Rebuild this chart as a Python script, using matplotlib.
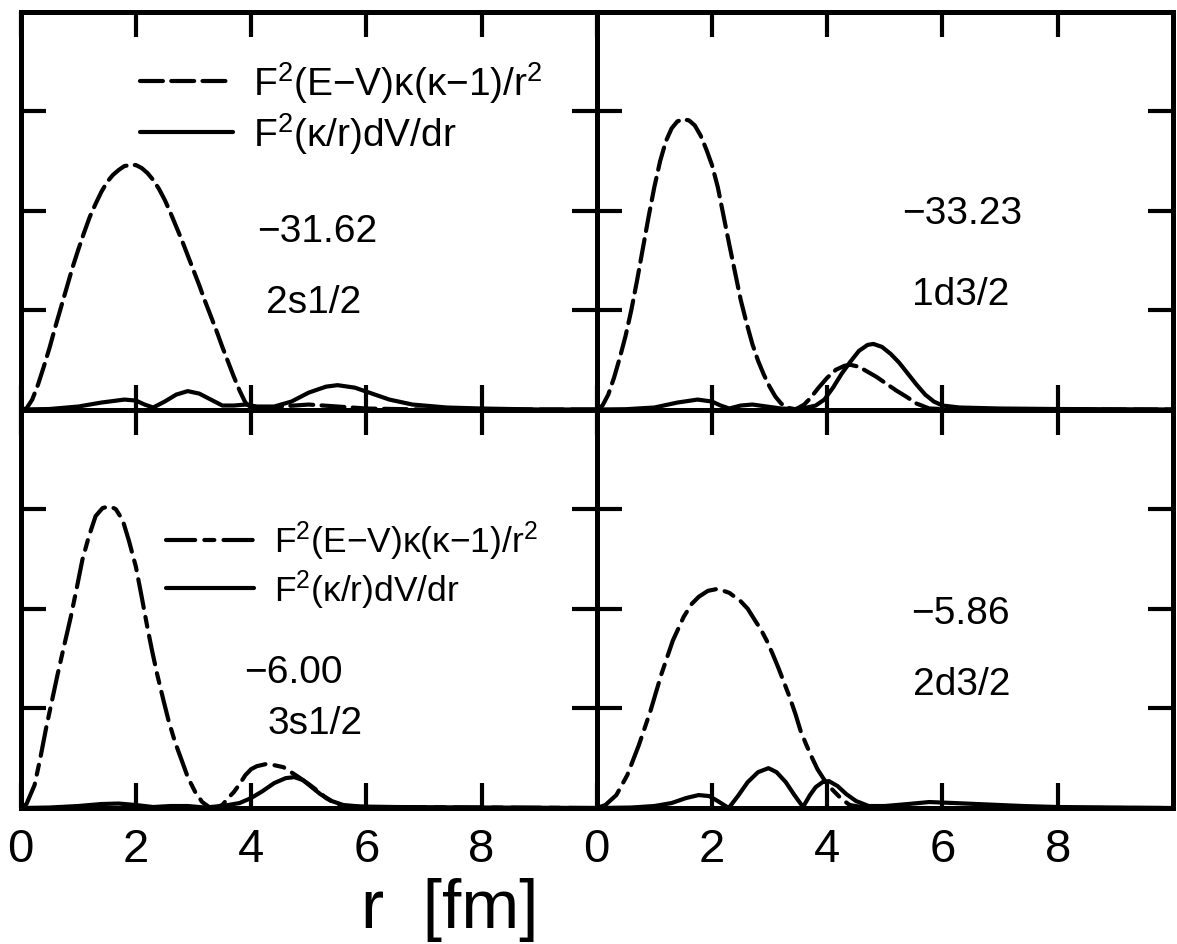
import matplotlib
matplotlib.use('Agg')
import matplotlib.pyplot as plt

plt.rcParams['font.family'] = ['Liberation Sans', 'DejaVu Sans']
plt.rcParams['mathtext.fontset'] = 'custom'
plt.rcParams['mathtext.rm'] = 'Liberation Sans'
plt.rcParams['mathtext.it'] = 'Liberation Sans'

# ---- data (r in fm, arbitrary units) ----
# top left: 2s1/2
tl_r_d = [0, 0.1, 0.2, 0.3, 0.4, 0.5, 0.6, 0.7, 0.8, 0.9, 1.0, 1.1, 1.2, 1.3, 1.4, 1.5, 1.6, 1.7, 1.8, 1.9,
          2.0, 2.1, 2.2, 2.3, 2.4, 2.5, 2.6, 2.7, 2.8, 2.9, 3.0, 3.1, 3.2, 3.3, 3.4, 3.5, 3.6, 3.7, 3.8, 3.9,
          4.0, 4.2, 4.5, 5.0, 5.5, 6.0, 7.0, 10]
tl_d = [0, 0.01, 0.1, 0.25, 0.43, 0.62, 0.83, 1.03, 1.23, 1.43, 1.61, 1.78, 1.94, 2.07, 2.19, 2.29, 2.36, 2.41,
        2.45, 2.46, 2.46, 2.43, 2.38, 2.31, 2.22, 2.11, 1.98, 1.84, 1.70, 1.55, 1.40, 1.25, 1.09, 0.94, 0.79,
        0.63, 0.48, 0.33, 0.19, 0.07, 0.02, 0.01, 0.03, 0.05, 0.03, 0.01, 0.0, 0.0]
tl_r_s = [0, 0.5, 1.0, 1.4, 1.8, 2.0, 2.15, 2.3, 2.5, 2.7, 2.9, 3.1, 3.3, 3.5, 3.7, 3.9, 4.1, 4.4, 4.7, 5.0,
          5.3, 5.5, 5.8, 6.1, 6.4, 6.8, 7.4, 8.0, 9.0, 10]
tl_s = [0, 0.005, 0.03, 0.07, 0.1, 0.09, 0.05, 0.02, 0.08, 0.15, 0.185, 0.16, 0.1, 0.04, 0.04, 0.05, 0.03,
        0.03, 0.08, 0.17, 0.23, 0.245, 0.22, 0.16, 0.1, 0.05, 0.02, 0.01, 0.0, 0.0]

# top right: 1d3/2
tr_r_d = [0, 0.1, 0.2, 0.3, 0.4, 0.5, 0.6, 0.7, 0.8, 0.9, 1.0, 1.1, 1.2, 1.3, 1.4, 1.5, 1.6, 1.7, 1.8, 1.9,
          2.0, 2.1, 2.2, 2.3, 2.4, 2.5, 2.6, 2.7, 2.8, 2.9, 3.0, 3.1, 3.2, 3.3, 3.45, 3.6, 3.7, 3.85,
          4.0, 4.15, 4.3, 4.4, 4.55, 4.7, 4.85, 5.0, 5.2, 5.37, 5.55, 5.77, 6.2, 10]
tr_d = [0, 0.04, 0.15, 0.32, 0.52, 0.74, 1.0, 1.3, 1.62, 1.94, 2.24, 2.5, 2.7, 2.83, 2.9, 2.92, 2.91, 2.86,
        2.76, 2.62, 2.46, 2.24, 1.95, 1.66, 1.38, 1.1, 0.87, 0.66, 0.49, 0.35, 0.23, 0.13, 0.06, 0.02, 0.0,
        0.05, 0.11, 0.22, 0.32, 0.4, 0.44, 0.45, 0.43, 0.38, 0.33, 0.27, 0.19, 0.13, 0.06, 0.01, 0.0, 0.0]
tr_r_s = [0, 0.5, 1.0, 1.4, 1.75, 2.0, 2.15, 2.3, 2.5, 2.7, 2.95, 3.2, 3.45, 3.65, 3.8, 3.95, 4.1, 4.25, 4.4,
          4.55, 4.7, 4.8, 4.95, 5.1, 5.25, 5.4, 5.55, 5.7, 5.85, 6.0, 6.3, 7.0, 8.0, 10]
tr_s = [0, 0.003, 0.02, 0.07, 0.1, 0.08, 0.04, 0.01, 0.04, 0.05, 0.03, 0.01, 0.005, 0.02, 0.04, 0.1, 0.22,
        0.36, 0.48, 0.59, 0.65, 0.66, 0.63, 0.56, 0.47, 0.36, 0.25, 0.15, 0.08, 0.04, 0.02, 0.01, 0.005, 0.0]

# bottom left: 3s1/2
bl_r_d = [0, 0.1, 0.24, 0.34, 0.44, 0.54, 0.64, 0.75, 0.87, 0.97, 1.07, 1.18, 1.3, 1.42, 1.54, 1.65, 1.77,
          1.88, 2.0, 2.1, 2.2, 2.28, 2.37, 2.47, 2.57, 2.68, 2.8, 2.9, 3.03, 3.15, 3.27, 3.4, 3.5, 3.6, 3.7,
          3.8, 3.9, 4.0, 4.1, 4.25, 4.4, 4.56, 4.8, 5.0, 5.16, 5.3, 5.45, 5.6, 6.0, 8.0, 10]
bl_d = [0, 0.04, 0.23, 0.5, 0.8, 1.07, 1.34, 1.62, 1.92, 2.2, 2.49, 2.72, 2.93, 3.01, 3.03, 3.0, 2.89, 2.68,
        2.42, 2.12, 1.81, 1.58, 1.34, 1.1, 0.87, 0.66, 0.47, 0.31, 0.16, 0.06, 0.01, 0.01, 0.03, 0.1, 0.16,
        0.24, 0.33, 0.39, 0.42, 0.44, 0.43, 0.41, 0.32, 0.24, 0.17, 0.1, 0.05, 0.02, 0.01, 0.005, 0.0]
bl_r_s = [0, 0.5, 1.0, 1.4, 1.7, 2.0, 2.3, 2.6, 2.9, 3.2, 3.5, 3.8, 4.0, 4.2, 4.4, 4.6, 4.75, 4.9, 5.05, 5.2,
          5.4, 5.6, 5.9, 6.5, 8.0, 10]
bl_s = [0, 0.005, 0.02, 0.04, 0.045, 0.03, 0.01, 0.02, 0.02, 0.005, 0.02, 0.05, 0.1, 0.17, 0.25, 0.3, 0.31,
        0.28, 0.21, 0.14, 0.07, 0.03, 0.015, 0.01, 0.005, 0.0]

# bottom right: 2d3/2
br_r_d = [0, 0.15, 0.34, 0.53, 0.73, 0.93, 1.12, 1.32, 1.51, 1.65, 1.77, 1.93, 2.1, 2.3, 2.49, 2.62, 2.75,
          2.85, 2.95, 3.05, 3.15, 3.25, 3.35, 3.45, 3.54, 3.64, 3.74, 3.83, 3.93, 4.03, 4.13, 4.25, 4.39, 4.6,
          5.0, 10]
br_d = [0, 0.03, 0.13, 0.33, 0.63, 0.97, 1.34, 1.68, 1.92, 2.05, 2.12, 2.18, 2.2, 2.16, 2.08, 2.0, 1.88,
        1.79, 1.68, 1.55, 1.41, 1.26, 1.11, 0.94, 0.77, 0.63, 0.5, 0.39, 0.3, 0.22, 0.16, 0.09, 0.03, 0.01,
        0.0, 0.0]
br_r_s = [0, 0.6, 1.0, 1.3, 1.55, 1.77, 1.95, 2.1, 2.29, 2.45, 2.62, 2.8, 2.98, 3.12, 3.28, 3.43, 3.58, 3.7,
          3.8, 3.92, 4.03, 4.18, 4.33, 4.5, 4.72, 5.0, 5.4, 5.77, 6.2, 6.8, 7.4, 8.0, 10]
br_s = [0, 0.005, 0.02, 0.05, 0.1, 0.13, 0.12, 0.07, 0.0, 0.12, 0.26, 0.36, 0.4, 0.36, 0.26, 0.13, 0.01,
        0.13, 0.21, 0.26, 0.27, 0.22, 0.14, 0.07, 0.02, 0.02, 0.04, 0.06, 0.05, 0.035, 0.02, 0.01, 0.0]

energies = ['\u221231.62', '\u221233.23', '\u22126.00', '\u22125.86']
states = ['2s1/2', '1d3/2', '3s1/2', '2d3/2']
lab_dash = 'F$^2$(E\u2212V)\u03ba(\u03ba\u22121)/r$^2$'
lab_solid = 'F$^2$(\u03ba/r)dV/dr'
xticks = [0, 2, 4, 6, 8]
yticks = [1, 2, 3]

fig = plt.figure(figsize=(11.77, 9.45), dpi=100)
L, M, R = 0.0176, 0.507, 0.9966
B, Mid, T = 0.1439, 0.5656, 0.9862
rects = [(L, Mid, M - L, T - Mid), (M, Mid, R - M, T - Mid),
         (L, B, M - L, Mid - B), (M, B, R - M, Mid - B)]
curves = [(tl_r_d, tl_d, tl_r_s, tl_s), (tr_r_d, tr_d, tr_r_s, tr_s),
          (bl_r_d, bl_d, bl_r_s, bl_s), (br_r_d, br_d, br_r_s, br_s)]
# text positions in data units (energy, state)
txt_pos = [((5.14, 1.80), (5.09, 1.08)), ((6.34, 1.98), (6.32, 1.16)),
           ((4.73, 1.37), (5.11, 0.85)), ((6.32, 1.96), (6.34, 1.24))]
dash_styles = [(5.5, 2.0), (5.5, 2.0), (7, 2.2, 2.4, 2.2), (7, 2.2, 2.4, 2.2)]

lw = 3.0
for i in range(4):
    ax = fig.add_axes(rects[i])
    rd, d, rs, s = curves[i]
    ld, = ax.plot(rd, d, color='black', lw=lw, dashes=dash_styles[i], dash_capstyle='round',
                  label=lab_dash)
    ls, = ax.plot(rs, s, color='black', lw=lw, solid_capstyle='round', solid_joinstyle='round',
                  label=lab_solid)
    ax.set_xlim(0, 10)
    ax.set_ylim(0, 4)
    ax.set_xticks(xticks)
    ax.set_yticks(yticks)
    ax.tick_params(direction='in', top=True, right=True, length=18, width=3, labelleft=False,
                   labelbottom=(i >= 2), labelsize=34, pad=14)
    for sp in ax.spines.values():
        sp.set_linewidth(3.6)
    (ex, ey), (sx, sy) = txt_pos[i]
    ax.text(ex, ey, energies[i], fontsize=28, ha='center', va='center')
    ax.text(sx, sy, states[i], fontsize=28, ha='center', va='center')
    if i == 0:
        ax.legend(handles=[ld, ls], loc='center left', bbox_to_anchor=(0.207, 0.76), frameon=False,
                  fontsize=28, handlelength=2.4, handletextpad=0.5, labelspacing=0.15,
                  borderpad=0, borderaxespad=0)
    if i == 2:
        ax.legend(handles=[ld, ls], loc='center left', bbox_to_anchor=(0.252, 0.61), frameon=False,
                  fontsize=25.5, handlelength=2.5, handletextpad=0.55, labelspacing=0.15,
                  borderpad=0, borderaxespad=0)

fig.text(450 / 1177, 1 - 910 / 945, 'r  [fm]', fontsize=50, ha='center', va='center')
fig.savefig('out.png', dpi=100)
